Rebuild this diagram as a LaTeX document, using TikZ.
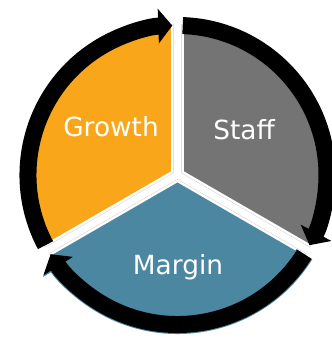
\documentclass[tikz,border=0pt]{standalone}
\usepackage{fontspec}
\setmainfont{DejaVu Sans}
\usetikzlibrary{arrows.meta,calc}

\definecolor{growthorange}{RGB}{250,166,26}
\definecolor{staffgray}{RGB}{116,116,116}
\definecolor{marginblue}{RGB}{76,135,162}

\tikzset{
	segment/.style = {
			draw = white,
			line width = 0.07cm,
			preaction = {draw=black!18, line width=0.1cm},
		},
	cyclearrow/.style = {
			draw = black,
			line width = 0.51cm,
			line cap = butt,
			-{Triangle[width=1.02cm, length=0.42cm]},
		},
	segtext/.style = {
			text = white,
			anchor = base,
			inner sep = 0pt,
			font = \fontsize{22.5}{26}\selectfont,
		}
}

\begin{document}
\begin{tikzpicture}[x=0.03cm, y=0.03cm]
	\useasboundingbox (0,0) rectangle (331,340);

	% centre of the cycle, every segment is pushed out a little
	\coordinate (ctr) at (177.5,165);
	\coordinate (growthapex) at ($(ctr)+(150:6)$);
	\coordinate (staffapex)  at ($(ctr)+(30:6)$);
	\coordinate (marginapex) at ($(ctr)+(270:6)$);

	% Pie segments
	\filldraw[fill=growthorange, segment] (growthapex) -- ++(90:146) arc[start angle=90, end angle=210, radius=146] -- cycle;
	\filldraw[fill=staffgray, segment] (staffapex) -- ++(90:146) arc[start angle=90, end angle=-30, radius=146] -- cycle;
	\filldraw[fill=marginblue, segment] (marginapex) -- ++(-30:146) arc[start angle=-30, end angle=-150, radius=146] -- cycle;

	% Circular arrows round the rim (clockwise)
	\draw[cyclearrow] ($(ctr)+(208:149.5)$) arc[start angle=208, end angle=92, radius=149.5];
	\draw[cyclearrow] ($(ctr)+(88:149.5)$) arc[start angle=88, end angle=-28, radius=149.5];
	\draw[cyclearrow, preaction={draw=marginblue, line width=0.57cm, -{Triangle[width=1.09cm, length=0.46cm]}}]
		($(ctr)+(-32:149.5)$) arc[start angle=-32, end angle=-148, radius=149.5];

	% Segment names
	\node[segtext] (growth) at (111,203) {Growth};
	\node[segtext] (staff)  at (244,200) {Staff};
	\node[segtext] (margin) at (178,65)  {Margin};
\end{tikzpicture}
\end{document}
